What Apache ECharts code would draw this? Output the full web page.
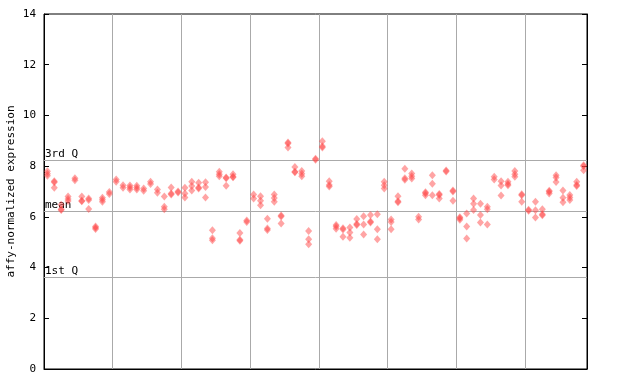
<!DOCTYPE html>
<html>
<head>
<meta charset="utf-8">
<script src="https://cdn.jsdelivr.net/npm/echarts@6/dist/echarts.min.js"></script>
<style>html,body{margin:0;padding:0;background:#fff}#c{width:640px;height:384px}</style>
</head>
<body>
<div id="c"></div>
<script>
// replicate values per sample (79 samples)
const expr = [
  [7.8, 7.7, 7.62], [7.4, 7.36, 7.15], [6.48, 6.3, 6.27], [6.8, 6.7, 6.63], [7.52, 7.44],
  [6.8, 6.64, 6.62], [6.72, 6.66, 6.31], [5.62, 5.57, 5.52], [6.75, 6.67, 6.6], [6.98, 6.9],
  [7.47, 7.38], [7.25, 7.15], [7.24, 7.16, 7.08], [7.23, 7.15, 7.08], [7.12, 7.03],
  [7.38, 7.3], [7.08, 6.95], [6.8, 6.4, 6.3], [7.16, 6.92, 6.88], [7.0, 6.96],
  [7.15, 6.92, 6.76], [7.38, 7.22, 7.04], [7.35, 7.16, 7.12], [7.36, 7.18, 6.76], [5.47, 5.16, 5.08],
  [7.78, 7.68, 7.6], [7.55, 7.52, 7.23], [7.68, 7.58, 7.56], [5.36, 5.1, 5.06], [5.86, 5.8],
  [6.88, 6.72], [6.81, 6.64, 6.46], [5.93, 5.54, 5.48], [6.88, 6.74, 6.6], [6.05, 6.01, 5.74],
  [8.93, 8.89, 8.74], [7.97, 7.78, 7.76], [7.81, 7.7, 7.6], [5.44, 5.12, 4.92], [8.29, 8.25],
  [8.98, 8.78, 8.74], [7.4, 7.26, 7.2], [5.68, 5.62, 5.53], [5.55, 5.5, 5.22], [5.58, 5.38, 5.18],
  [5.92, 5.72, 5.68], [6.02, 5.7, 5.3], [6.07, 5.82, 5.78], [6.1, 5.51, 5.12], [7.38, 7.25, 7.12],
  [5.9, 5.8, 5.51], [6.81, 6.62, 6.58], [7.9, 7.52, 7.46], [7.71, 7.6, 7.51], [6.0, 5.9],
  [6.97, 6.93, 6.85], [7.64, 7.31, 6.85], [6.9, 6.86, 6.72], [7.83, 7.79], [7.04, 7.0, 6.64],
  [5.98, 5.95, 5.89], [6.13, 5.62, 5.15], [6.72, 6.52, 6.27], [6.52, 6.07, 5.78], [6.4, 6.3, 5.7],
  [7.58, 7.47], [7.4, 7.24, 6.84], [7.38, 7.3, 7.25], [7.81, 7.68, 7.58], [6.89, 6.85, 6.6],
  [6.28, 6.24], [6.6, 6.26, 5.97], [6.3, 6.1, 6.06], [7.03, 6.99, 6.92], [7.64, 7.55, 7.37],
  [7.04, 6.75, 6.58], [6.86, 6.76, 6.66], [7.38, 7.26, 7.22], [8.04, 8.0, 7.84]
];
const refLines = [
  { name: '3rd Q', value: 8.22 },
  { name: 'mean', value: 6.22 },
  { name: '1st Q', value: 3.62 }
];
const yTicks = [0, 2, 4, 6, 8, 10, 12, 14];
const yTitle = 'affy-normalized expression';
const groupSize = 10;

const points = [];
expr.forEach((vals, i) => vals.forEach(v => points.push([i + 0.5, v])));

const FONT = 'DejaVu Sans Mono';
const chart = echarts.init(document.getElementById('c'), null, { renderer: 'canvas' });
chart.setOption({
  animation: false,
  backgroundColor: '#fff',
  grid: { left: 44, right: 53, top: 14, bottom: 15, show: true, borderColor: '#000', borderWidth: 1,
          containLabel: false, outerBoundsMode: 'none' },
  xAxis: {
    type: 'value', min: 0, max: expr.length, interval: groupSize,
    axisLine: { show: true, lineStyle: { color: '#000' } },
    axisTick: { show: false }, axisLabel: { show: false },
    splitLine: { show: true, lineStyle: { color: '#aaa', width: 1 } }
  },
  yAxis: [{
    type: 'value', min: yTicks[0], max: yTicks[yTicks.length - 1], interval: 2,
    name: yTitle, nameLocation: 'middle', nameGap: 27, nameMoveOverlap: false,
    nameTextStyle: { fontFamily: FONT, fontSize: 11, color: '#000' },
    axisLine: { show: true, lineStyle: { color: '#000' } },
    axisTick: { show: true, inside: true, length: 5, lineStyle: { color: '#000' } },
    axisLabel: { fontFamily: FONT, fontSize: 11, color: '#000', margin: 8 },
    splitLine: { show: false }
  }, {
    type: 'value', min: yTicks[0], max: yTicks[yTicks.length - 1], interval: 2, position: 'right',
    axisLine: { show: true, lineStyle: { color: '#000' } },
    axisTick: { show: true, inside: true, length: 5, lineStyle: { color: '#000' } },
    axisLabel: { show: false }, splitLine: { show: false }
  }],
  series: [{
    type: 'scatter',
    data: points,
    symbol: 'diamond',
    symbolSize: [7, 8],
    itemStyle: { color: 'rgba(255,70,70,0.62)' },
    z: 5,
    markLine: {
      silent: true, symbol: 'none', animation: false,
      lineStyle: { color: '#aaa', width: 1, type: 'solid' },
      label: {
        show: true, position: 'insideStartTop', distance: [1, 1],
        fontFamily: FONT, fontSize: 11, color: '#000',
        formatter: p => p.name
      },
      data: refLines.map(r => ({ name: r.name, yAxis: r.value }))
    }
  }]
});
</script>
</body>
</html>
